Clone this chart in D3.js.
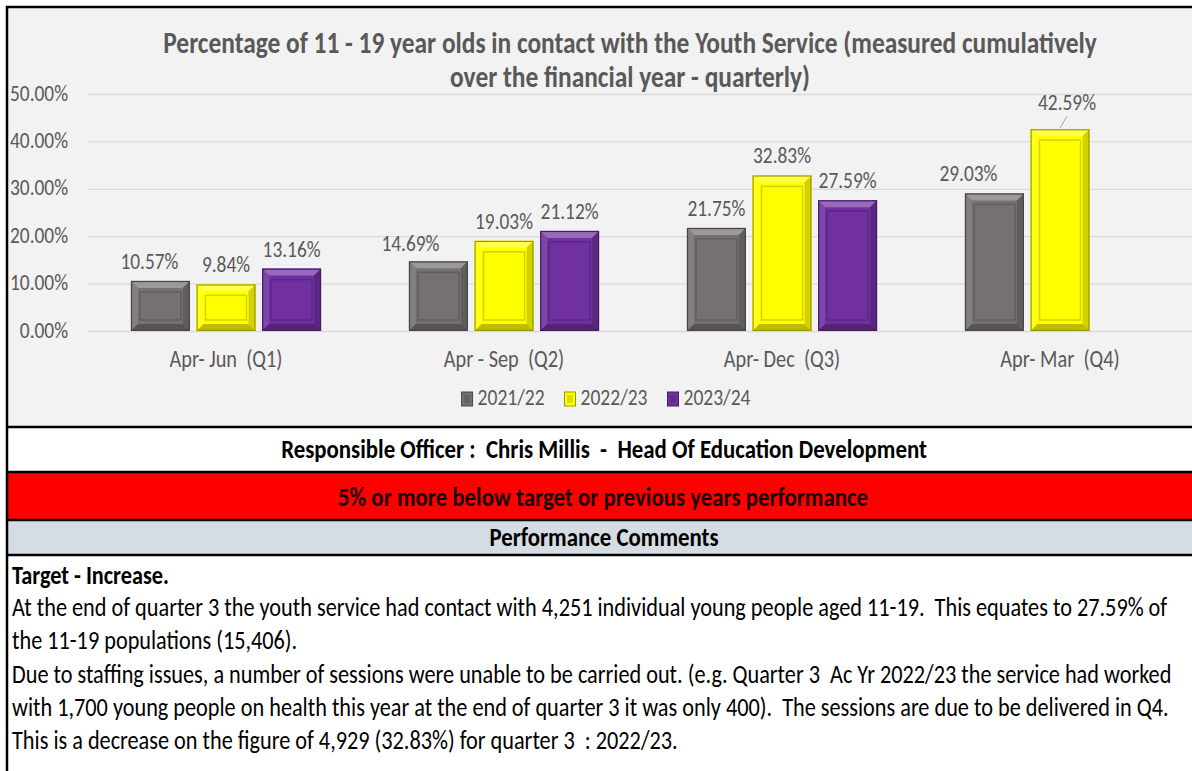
<!DOCTYPE html>
<html><head><meta charset="utf-8">
<script src="https://cdn.jsdelivr.net/npm/d3@7"></script>
<style>
html,body{margin:0;padding:0;background:#fff;overflow:hidden;}
svg{display:block;}
text{white-space:pre;}
</style></head><body>
<script>
// ---------- data ----------
const categories = ["Apr- Jun  (Q1)", "Apr - Sep  (Q2)", "Apr- Dec  (Q3)", "Apr- Mar  (Q4)"];
const seriesNames = ["2021/22", "2022/23", "2023/24"];
const values2021 = [10.57, 14.69, 21.75, 29.03];
const values2022 = [9.84, 19.03, 32.83, 42.59];
const values2023 = [13.16, 21.12, 27.59, null];
const seriesColors = ["#767171", "#ffff00", "#7030a0"];
const yTicks = [0, 10, 20, 30, 40, 50];
const titleLines = [
  "Percentage of 11 - 19 year olds in contact with the Youth Service (measured cumulatively",
  "over the financial year - quarterly)"
];
const officerText = "Responsible Officer :  Chris Millis  -  Head Of Education Development";
const statusText = "5% or more below target or previous years performance";
const commentsHeader = "Performance Comments";
const commentHeading = "Target - Increase.";
const commentLines = [
  "At the end of quarter 3 the youth service had contact with 4,251 individual young people aged 11-19.  This equates to 27.59% of",
  "the 11-19 populations (15,406).",
  "Due to staffing issues, a number of sessions were unable to be carried out. (e.g. Quarter 3  Ac Yr 2022/23 the service had worked",
  "with 1,700 young people on health this year at the end of quarter 3 it was only 400).  The sessions are due to be delivered in Q4.",
  "This is a decrease on the figure of 4,929 (32.83%) for quarter 3  : 2022/23."
];
const seriesValues = [values2021, values2022, values2023];

// ---------- setup ----------
const W = 1192, H = 771;
const FF = "Carlito, Calibri, Lato, 'Open Sans', sans-serif";
const K = 1.17; // vertical stretch of glyphs
const svg = d3.select("body").append("svg").attr("width", W).attr("height", H);

// manually moved data labels (style: [seriesIndex, categoryIndex] -> offset)
const labelNudge = { "0-0": [-11, 0], "0-1": [-28, 2], "0-3": [-26, 0], "1-3": [7, -7] };
const leaderLines = { "1-3": true };

function sizeFor(str, target, weight, base = 20) {
  const t = svg.append("text").attr("font-family", FF).attr("font-weight", weight)
    .attr("font-size", base).style("white-space", "pre").text(str);
  const w = t.node().getComputedTextLength();
  t.remove();
  return base * target / w;
}
function label(parent, x, y, str, o) {
  return parent.append("text")
    .attr("transform", `translate(${x},${y}) scale(1,${K})`)
    .attr("font-family", FF).attr("font-size", o.size)
    .attr("font-weight", o.weight || "normal")
    .attr("fill", o.fill || "#595959")
    .attr("text-anchor", o.anchor || "start")
    .text(str);
}

// ---------- panels ----------
svg.append("rect").attr("x", 7).attr("y", 7).attr("width", W - 7).attr("height", 420).attr("fill", "#f2f2f2");
svg.append("rect").attr("x", 7).attr("y", 427).attr("width", W - 7).attr("height", 45).attr("fill", "#ffffff");
svg.append("rect").attr("x", 7).attr("y", 472).attr("width", W - 7).attr("height", 48).attr("fill", "#ff0000");
svg.append("rect").attr("x", 7).attr("y", 520).attr("width", W - 7).attr("height", 35).attr("fill", "#d6dce4");
svg.append("rect").attr("x", 7).attr("y", 555).attr("width", W - 7).attr("height", H - 555).attr("fill", "#ffffff");

// ---------- scales ----------
const y = d3.scaleLinear().domain([0, 50]).range([331, 94]);
const x0 = d3.scaleBand().domain(categories).range([87, 1199]);
const bw = x0.bandwidth();
const x1 = d3.scaleBand().domain(seriesNames).range([bw * 0.158, bw * 0.842]).paddingInner(0.1);

// ---------- y axis + grid ----------
const ySize = sizeFor("50.00%", 58, "normal");
const gy = svg.append("g").attr("transform", "translate(88,0)")
  .call(d3.axisLeft(y).tickValues(yTicks).tickSize(-(W - 88)).tickPadding(20)
    .tickFormat(d => d.toFixed(2) + "%"));
gy.select(".domain").remove();
gy.selectAll(".tick line").attr("stroke", "#d9d9d9").attr("stroke-width", 1.3);
gy.selectAll(".tick text").attr("font-family", FF).attr("font-size", ySize).attr("fill", "#595959")
  .attr("dy", null).attr("y", 6 / K).attr("transform", `scale(1,${K})`);

// ---------- x axis ----------
const xSize = sizeFor(categories[0], 113, "normal");
const gx = svg.append("g").attr("transform", "translate(0,331)")
  .call(d3.axisBottom(x0).tickSize(0).tickPadding(0));
gx.select(".domain").remove();
gx.selectAll(".tick text").attr("font-family", FF).attr("font-size", xSize).attr("fill", "#595959")
  .attr("dy", null).attr("y", 36 / K).attr("transform", `scale(1,${K})`)
  .style("white-space", "pre");

// ---------- bars ----------
function bevelBar(g, x, yTop, w, h, c) {
  const b = Math.min(7, h / 3);
  const base = d3.color(c);
  const light = d3.interpolateRgb(c, "#ffffff")(0.28);
  const lightL = d3.interpolateRgb(c, "#ffffff")(0.1);
  const darkR = base.darker(0.55).formatHex();
  const darkB = base.darker(0.85).formatHex();
  const edge = base.darker(1.4).formatHex();
  g.append("rect").attr("x", x).attr("y", yTop).attr("width", w).attr("height", h).attr("fill", c);
  const poly = (pts, fill) => g.append("polygon").attr("points", pts.map(p => p.join(",")).join(" ")).attr("fill", fill);
  poly([[x, yTop], [x + w, yTop], [x + w - b, yTop + b], [x + b, yTop + b]], light);
  poly([[x, yTop], [x + b, yTop + b], [x + b, yTop + h - b], [x, yTop + h]], lightL);
  poly([[x + w, yTop], [x + w, yTop + h], [x + w - b, yTop + h - b], [x + w - b, yTop + b]], darkR);
  poly([[x, yTop + h], [x + w, yTop + h], [x + w - b, yTop + h - b], [x + b, yTop + h - b]], darkB);
  const ix = 9, iy = Math.min(11, h / 3);
  g.append("rect").attr("x", x + ix).attr("y", yTop + iy).attr("width", Math.max(0, w - 2 * ix))
    .attr("height", Math.max(0, h - 2 * iy)).attr("fill", "none").attr("stroke", darkR).attr("stroke-width", 1.5);
  g.append("rect").attr("x", x + 0.6).attr("y", yTop + 0.6).attr("width", w - 1.2).attr("height", h - 1.2)
    .attr("fill", "none").attr("stroke", edge).attr("stroke-width", 1.2);
}

const vSize = sizeFor("10.57%", 58, "normal");
const barsG = svg.append("g");
const labelsG = svg.append("g");
categories.forEach((cat, ci) => {
  seriesNames.forEach((s, si) => {
    const v = seriesValues[si][ci];
    if (v == null) return;
    const bx = x0(cat) + x1(s);
    const w = x1.bandwidth();
    bevelBar(barsG, bx, y(v), w, y(0) - y(v), seriesColors[si]);
    const cx = bx + w / 2;
    const key = si + "-" + ci;
    const [dx, dy] = labelNudge[key] || [0, 0];
    if (leaderLines[key]) {
      labelsG.append("line").attr("x1", cx + dx).attr("y1", y(v) - 13).attr("x2", cx).attr("y2", y(v) - 1)
        .attr("stroke", "#a6a6a6").attr("stroke-width", 1);
    }
    label(labelsG, cx + dx, y(v) - 12 + dy, v.toFixed(2) + "%", { size: vSize, anchor: "middle" });
  });
});

// ---------- legend ----------
const lSize = sizeFor("2021/22", 67, "normal");
const legendG = svg.append("g");
const itemW = seriesNames.map(s => {
  const t = svg.append("text").attr("font-family", FF).attr("font-size", lSize).text(s);
  const w = t.node().getComputedTextLength(); t.remove(); return 11 + 5 + w;
});
const gapL = 20;
const totalL = d3.sum(itemW) + gapL * (seriesNames.length - 1);
let lx = 606 - totalL / 2;
seriesNames.forEach((s, i) => {
  const c = seriesColors[i];
  legendG.append("rect").attr("x", lx).attr("y", 392).attr("width", 11).attr("height", 14)
    .attr("fill", c).attr("stroke", d3.color(c).darker(1.4).formatHex()).attr("stroke-width", 1);
  legendG.append("rect").attr("x", lx + 2.5).attr("y", 395).attr("width", 6).attr("height", 8)
    .attr("fill", d3.color(c).darker(0.4).formatHex());
  label(legendG, lx + 16, 405, s, { size: lSize });
  lx += itemW[i] + gapL;
});

// ---------- title ----------
const tSize = sizeFor(titleLines[0], 934, "bold");
label(svg, 630, 53, titleLines[0], { size: tSize, weight: "bold", anchor: "middle" });
label(svg, 630, 87, titleLines[1], { size: tSize, weight: "bold", anchor: "middle" });

// ---------- bottom table ----------
const oSize = sizeFor(officerText, 646, "bold");
label(svg, 604, 458, officerText, { size: oSize, weight: "bold", fill: "#000000", anchor: "middle" });
label(svg, 603, 506, statusText, { size: oSize, weight: "bold", fill: "#1a0000", anchor: "middle" });
label(svg, 604, 546, commentsHeader, { size: oSize, weight: "bold", fill: "#000000", anchor: "middle" });

const cSize = sizeFor(commentLines[0], 1156, "normal");
label(svg, 12, 584, commentHeading, { size: cSize, weight: "bold", fill: "#000000" });
const lineY = [616, 649, 683, 716, 749];
commentLines.forEach((l, i) => label(svg, 12, lineY[i], l, { size: cSize, fill: "#000000" }));

// ---------- borders ----------
[7, 427, 472, 520, 555].forEach(yy => svg.append("line").attr("x1", 6).attr("x2", W).attr("y1", yy).attr("y2", yy)
  .attr("stroke", "#000").attr("stroke-width", 2.5));
svg.append("line").attr("x1", 7).attr("x2", 7).attr("y1", 6).attr("y2", H).attr("stroke", "#000").attr("stroke-width", 2.5);
</script>
</body></html>
